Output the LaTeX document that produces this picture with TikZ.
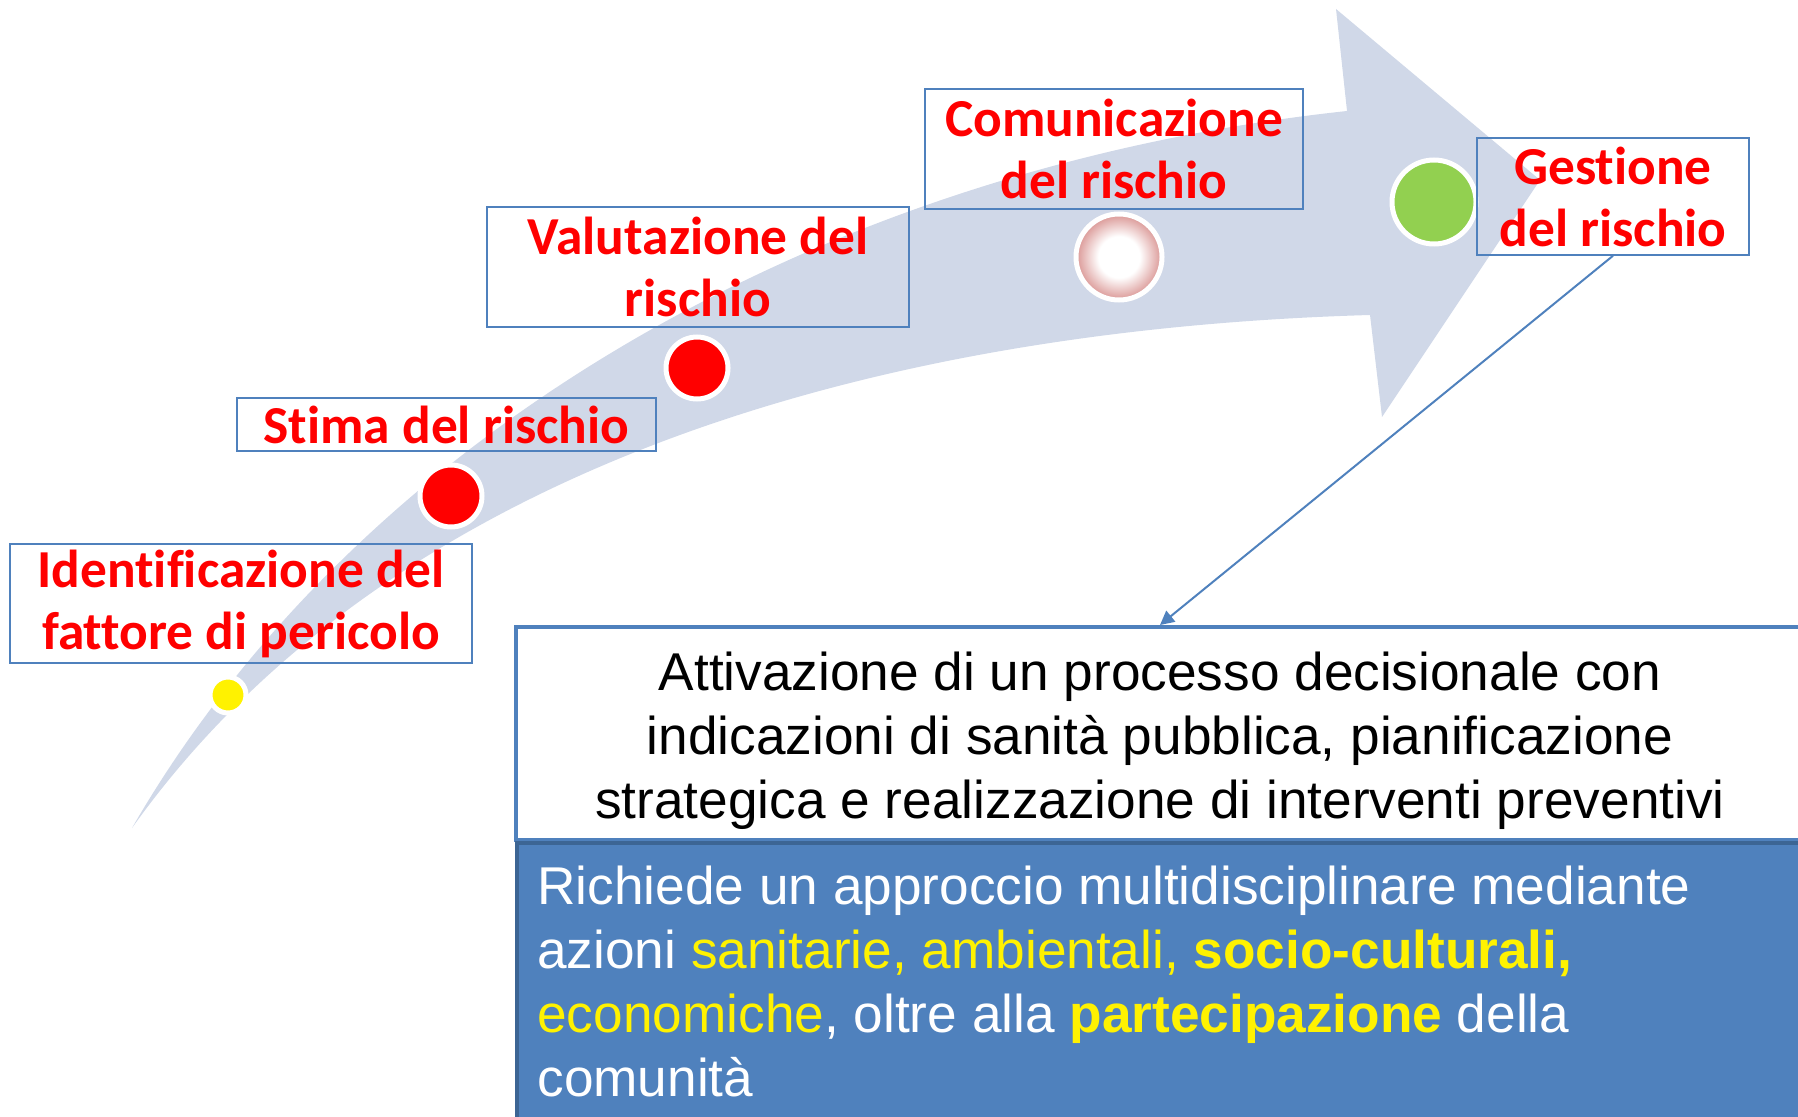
\documentclass[tikz,border=0pt]{standalone}
\usepackage{fontspec}
\setmainfont{Liberation Sans}
\newfontfamily\calibri[Ligatures=NoCommon]{Carlito}
\usetikzlibrary{arrows.meta,positioning}
\definecolor{band}{RGB}{208,216,232}
\definecolor{frame}{RGB}{79,129,189}
\definecolor{frameDark}{RGB}{60,101,148}
\definecolor{rim}{RGB}{218,150,148}
\definecolor{leaf}{RGB}{146,208,80}
\pgfdeclareradialshading{rimshade}{\pgfpoint{0bp}{0bp}}{color(0bp)=(white); color(12bp)=(white); color(25bp)=(rim); color(50bp)=(rim)}
\newcommand{\redfont}{\calibri\bfseries\fontsize{26.7}{31}\selectfont}
\newcommand{\bodyfont}{\fontsize{26.6}{32}\selectfont}

\begin{document}
\begin{tikzpicture}[x=0.5pt,y=-0.5pt,
    stepbox/.style={draw=frame, line width=0.75pt, inner sep=0pt, align=center, font=\redfont, text=red},
    dot/.style={circle, draw=white, line width=2.5pt, inner sep=0pt}]
  \useasboundingbox (0,0) rectangle (1798,1117);
  \clip (0,0) rectangle (1798,1117);
  % the curved arrow
  \fill[band] (132,828) .. controls (350,450) and (800,170) .. (1347,111)
     -- (1336,9) -- (1540,180) -- (1382,417) -- (1370,315)
     .. controls (850,330) and (380,480) .. (132,828) -- cycle;
  % the dots
  \node[dot, fill=yellow, minimum size=18pt] (hazard) at (228,695) {};
  \node[dot, fill=red, minimum size=31pt] (estimate) at (451,496) {};
  \node[dot, fill=red, minimum size=31pt] (assess) at (697,368) {};
  \node[dot, shade, shading=rimshade, minimum size=43pt] (inform) at (1119,257) {};
  \node[dot, fill=leaf, minimum size=42pt] (manage) at (1434,202) {};
  % the steps
  \node[stepbox, minimum width=231pt, minimum height=59.5pt] (ident) at (241,603.5) {Identificazione del\\fattore di pericolo};
  \node[stepbox, minimum width=209.5pt, minimum height=26.5pt] (stima) at (446.5,424.5) {Stima del rischio};
  \node[stepbox, minimum width=211pt, minimum height=60pt] (valut) at (698,267) {Valutazione del\\rischio};
  \node[stepbox, minimum width=189pt, minimum height=60pt] (comun) at (1114,149) {Comunicazione\\del rischio};
  \node[stepbox, minimum width=136pt, minimum height=58.5pt] (gest) at (1613,196.5) {Gestione\\del rischio};
  % the two panels
  \node[draw=frame, line width=2pt, fill=white, minimum width=644pt, minimum height=106.5pt,
        align=center, font=\bodyfont] (decision) at (1160,733.5)
        {\rule{0pt}{26.5pt}Attivazione di un processo decisionale con\\indicazioni di sanità pubblica, pianificazione\\strategica e realizzazione di interventi preventivi};
  \filldraw[fill=frame, draw=frameDark, line width=2pt] (517,843) rectangle (1830,1140);
  \node[anchor=north west, inner sep=0pt, align=left, text=white, font=\bodyfont] (needs) at (537,866)
        {Richiede un approccio multidisciplinare mediante\\
         azioni \textcolor{yellow}{sanitarie, ambientali, \bfseries socio-culturali,}\\
         \textcolor{yellow}{economiche}, oltre alla \textcolor{yellow}{\bfseries partecipazione} della\\
         comunità};
  \draw[frame, line width=1pt, -{Triangle[length=7pt,width=7pt]}] (gest.south) -- (decision.north);
\end{tikzpicture}
\end{document}
